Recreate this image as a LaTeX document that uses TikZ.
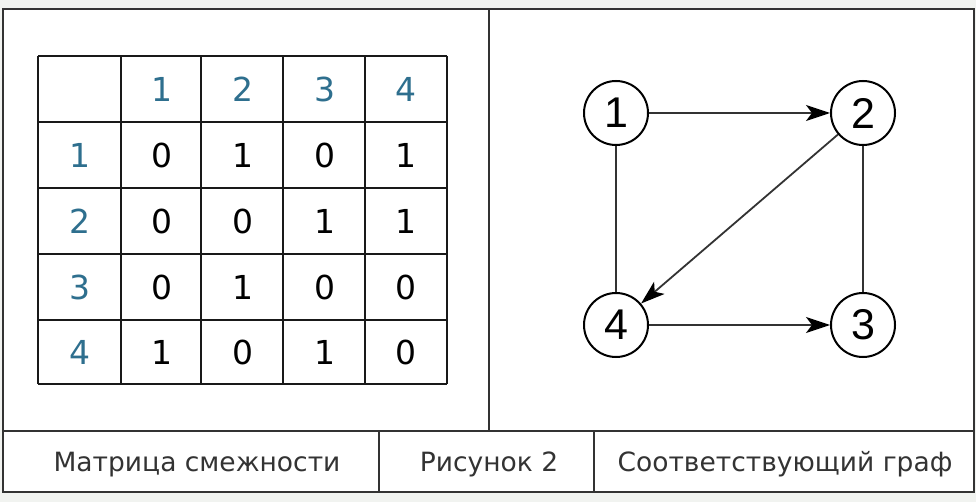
\documentclass[tikz,border=0pt]{standalone}
\usepackage{fontspec}
\setmainfont{DejaVu Sans}
\newfontfamily\graphfont{Liberation Sans}
\usetikzlibrary{arrows.meta}
\usetikzlibrary{positioning}
\definecolor{headblue}{HTML}{2E6F8E}
\definecolor{framegray}{HTML}{333333}
\definecolor{pagegray}{HTML}{F1F3F0}

\begin{document}
\begin{tikzpicture}[x=1pt,y=-1pt]
	\fill[pagegray] (0,0) rectangle (976,502);
	\useasboundingbox (0,0) rectangle (976,502);

	% outer frame
	\begin{scope}[draw=framegray, line width=2.5pt]
		\filldraw[fill=white] (3,9) rectangle (974,492);
		\draw (3,431) -- (974,431);
		\draw (489,9) -- (489,431);
		\draw (379,431) -- (379,492);
		\draw (594,431) -- (594,492);
	\end{scope}

	% adjacency table
	\begin{scope}[line width=2pt, draw=black!90]
		\foreach \x in {38,121,201,283,365,447}
			\draw (\x,56) -- (\x,384);
		\foreach \y in {56,122,188,254,320,384}
			\draw (38,\y) -- (447,\y);
	\end{scope}

	\begin{scope}[every node/.style={font=\fontsize{33}{33}\selectfont}]
		\foreach \c in {1,...,4}
			\node[text=headblue] (h-\c) at ({80+81.5*\c},89) {\c};
		\foreach \r/\y/\row in {1/155/{0,1,0,1}, 2/221/{0,0,1,1},
		                        3/287/{0,1,0,0}, 4/352/{1,0,1,0}} {
			\node[text=headblue] (r-\r) at (79.5,\y) {\r};
			\foreach \v [count=\c] in \row
				\node (m-\r-\c) at ({80+81.5*\c},\y) {\v};
		}
	\end{scope}

	% graph
	\begin{scope}[every node/.style={circle, draw, line width=2pt, minimum size=64pt,
	              inner sep=0pt, font=\graphfont\fontsize{43}{43}\selectfont}]
		\node (1) at (616,113) {1};
		\node (2) at (863,113) {2};
		\node (3) at (863,325) {3};
		\node (4) at (616,325) {4};
	\end{scope}

	\begin{scope}[>={Stealth[black,length=24pt,width=16pt,inset=6pt]},
	              every edge/.style={draw=black!80, line width=1.8pt}]
		\path (1) edge[->] (2);
		\path (2) edge[->] (4);
		\path (4) edge[->] (3);
		\path (1) edge (4);
		\path (2) edge (3);
	\end{scope}

	% captions
	\begin{scope}[every node/.style={text=framegray, anchor=base,
	              font=\fontsize{26.5}{26.5}\selectfont}]
		\node (cap-matrix) at (197,471) {Матрица смежности};
		\node (cap-fig) at (489,471) {Рисунок 2};
		\node (cap-graph) at (785,471) {Соответствующий граф};
	\end{scope}
\end{tikzpicture}
\end{document}
